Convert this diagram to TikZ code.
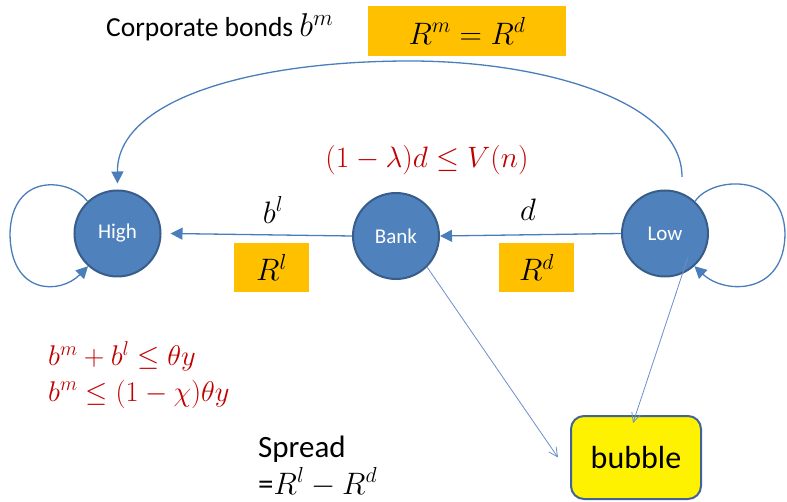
\RequirePackage{fix-cm}
\documentclass[tikz,border=0pt]{standalone}
\usepackage{fontspec}
\setmainfont{Carlito}
\usetikzlibrary{arrows.meta,calc}
\definecolor{nodefill}{RGB}{79,129,189}
\definecolor{nodeedge}{RGB}{56,93,138}
\definecolor{linkblue}{RGB}{74,126,187}
\definecolor{thinblue}{RGB}{105,143,203}
\definecolor{boxorange}{RGB}{255,192,0}
\definecolor{redtext}{RGB}{192,0,0}
\definecolor{bubbleedge}{RGB}{65,100,150}
\tikzset{
  agent/.style={circle, fill=nodefill, draw=nodeedge, line width=2pt, minimum size=86pt, inner sep=0pt, text=white, font=\fontsize{21}{25}\selectfont},
  ratebox/.style={rectangle, fill=boxorange, inner sep=0pt, font=\fontsize{31}{36}\selectfont},
  flow/.style={draw=linkblue, line width=1.3pt, -{Triangle[length=12pt,width=12pt]}},
  thinflow/.style={draw=thinblue, line width=0.8pt, -{Straight Barb[length=9pt,width=9pt]}},
  redmath/.style={text=redtext, inner sep=0pt, font=\fontsize{28.5}{34}\selectfont},
  plainlabel/.style={inner sep=0pt, font=\fontsize{31}{36}\selectfont},
}
\begin{document}
\begin{tikzpicture}[x=1pt,y=-1pt]
\useasboundingbox (0,0) rectangle (787,502);
% agents
\node[agent] (high) at (117.5,233.5) {High};
\node[agent] (bank) at (396,236) {Bank};
\node[agent] (low)  at (665,233.5) {Low};
% bubble
\node[rectangle, rounded corners=13pt, fill=yellow, draw=bubbleedge, line width=2pt,
      minimum width=130pt, minimum height=83pt, inner sep=0pt,
      font=\fontsize{32}{36}\selectfont] (bubble) at (636,457.5) {bubble};
% top labels
\node[anchor=base west, inner sep=0pt] (corp) at (106,37)
  {\fontsize{27.5}{32}\selectfont Corporate bonds \fontsize{33}{38}\selectfont$b^m$};
\node[ratebox, minimum width=198pt, minimum height=50pt] (rmbox) at (467,31) {$R^m = R^d$};
\node[redmath, font=\fontsize{29.5}{34}\selectfont] (liq) at (427,160) {$(1-\lambda)d \le V(n)$};
% flow labels
\node[plainlabel] (bl) at (273,210) {$b^l$};
\node[plainlabel] (dl) at (528,210) {$d$};
\node[ratebox, minimum width=75pt, minimum height=49pt] (rlbox) at (271.5,267.5) {$R^l$};
\node[ratebox, minimum width=75pt, minimum height=49pt] (rdbox) at (536.5,267.5) {$R^d$};
% constraints
\node[redmath, anchor=base west] (c1) at (48,366) {$b^m + b^l \le \theta y$};
\node[redmath, anchor=base west] (c2) at (48,401) {$b^m \le (1-\chi)\theta y$};
% spread
\node[anchor=base west, inner sep=0pt, font=\fontsize{31}{36}\selectfont] (spr1) at (258,457) {Spread};
\node[anchor=base west, inner sep=0pt, font=\fontsize{31}{36}\selectfont] (spr2) at (258,494)
  {=\fontsize{31}{36}\selectfont$R^l - R^d$};
% connectors
\draw[flow] (bank.west) -- ([xshift=9pt]high.east);
\draw[flow] (low.west) -- (bank.east);
\coordinate (arcstart) at (682,177);
\coordinate (arctop) at (410,61);
\draw[flow, shorten >=6pt] (arcstart) .. controls (682,100) and (540,61) .. (arctop)
  .. controls (250,61) and (117,100) .. (high.north);
% self loops
\draw[flow] (high.133) .. controls (70,178) and (12,172) .. (10,233)
  .. controls (10,295) and (60,295) .. (high.228);
\draw[flow] (low.47) .. controls (712,176) and (783,172) .. (785,233)
  .. controls (785,295) and (725,295) .. (low.-48);
% to bubble
\draw[thinflow] (bank.-45) -- ([xshift=-12pt]bubble.west);
\coordinate (lowout) at ([xshift=23pt,yshift=-23.5pt]low.center);
\draw[thinflow] (lowout) -- ([xshift=-3pt,yshift=-8pt]bubble.north);
\end{tikzpicture}
\end{document}
